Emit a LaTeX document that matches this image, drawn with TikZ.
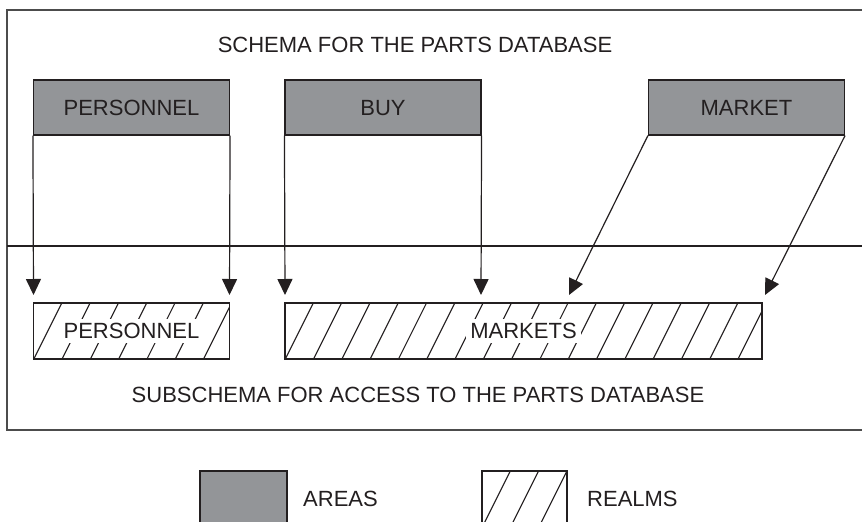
\documentclass[tikz,border=0pt]{standalone}
\usepackage{fontspec}
\setmainfont{Liberation Sans}
\usetikzlibrary{arrows.meta}
\definecolor{areagray}{RGB}{147,149,152}
\definecolor{ink}{RGB}{35,31,32}
\setlength{\fboxsep}{4pt}
\tikzset{
	area/.style={draw=ink, fill=areagray, text=ink, line width=1.1pt, minimum width=196, minimum height=55, inner sep=0pt, text height=15.8pt, text depth=0pt},
	realm/.style={draw=ink, text=ink, line width=1.1pt, minimum height=56, inner sep=0pt,
		path picture={\foreach \k in {0,...,20}
			\draw[ink, line width=1.1pt] (path picture bounding box.north west) ++(\k*28.3,0) -- ++(-40,80);}},
	caption/.style={text=ink, inner sep=0pt, text height=15.8pt, text depth=0pt},
	feed/.style={-{Triangle[length=16pt, width=15pt]}, draw=ink, line width=1.2pt},
}
\begin{document}
\begin{tikzpicture}[x=1pt, y=-1pt, font=\fontsize{22}{26}\selectfont]
			\useasboundingbox (0,0) rectangle (862,522);
			\draw[black!70, line width=1.4pt] (7,10) rectangle (900,430);
			\draw[ink, line width=1.1pt] (7,246) -- (900,246);
			\node[caption] (schema) at (415,45) {SCHEMA FOR THE PARTS DATABASE};
			\node[caption] (subschema) at (418,395) {SUBSCHEMA FOR ACCESS TO THE PARTS DATABASE};
			\node[area] (areaPers) at (131.5,107.5) {PERSONNEL};
			\node[area] (areaBuy) at (383,107.5) {BUY};
			\node[area] (areaMkt) at (746.5,107.5) {MARKET};
			\node[realm, minimum width=196] (realmPers) at (131.5,331) {\colorbox{white}{PERSONNEL}};
			\node[realm, minimum width=477] (realmMkt) at (523.5,331) {\colorbox{white}{MARKETS}};
			\coordinate (tipPersL) at (33.5,295);
			\coordinate (tipPersR) at (229.5,295);
			\coordinate (tipBuyL) at (285,295);
			\coordinate (tipBuyR) at (481,295);
			\coordinate (tipMktL) at (569,295);
			\coordinate (tipMktR) at (765,295);
			\path
			(areaPers.south west) edge[feed] (tipPersL)
			(areaPers.south east) edge[feed] (tipPersR)
			(areaBuy.south west) edge[feed] (tipBuyL)
			(areaBuy.south east) edge[feed] (tipBuyR)
			(areaMkt.south west) edge[feed] (tipMktL)
			(areaMkt.south east) edge[feed] (tipMktR);
			\node[area, minimum width=87, minimum height=87] (keyArea) at (243.5,514.5) {};
			\node[caption, anchor=west] (keyAreaText) at (303,499) {AREAS};
			\node[realm, minimum width=85, minimum height=85] (keyRealm) at (524.5,513.5) {};
			\node[caption, anchor=west] (keyRealmText) at (587,499) {REALMS};
		\end{tikzpicture}
\end{document}
